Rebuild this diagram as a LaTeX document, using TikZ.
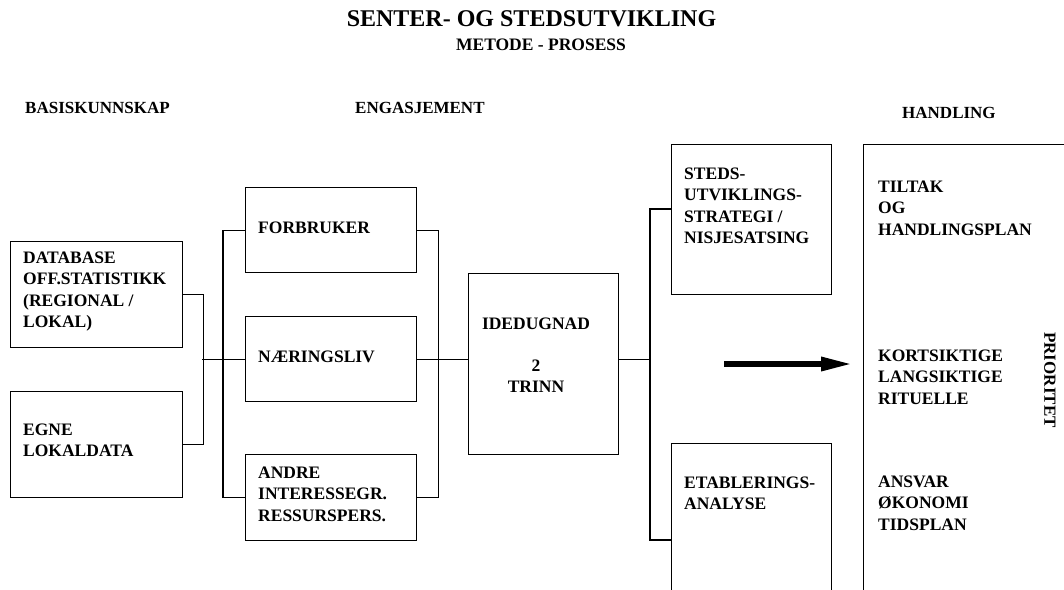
\documentclass[tikz,border=0pt]{standalone}
\usepackage{fontspec}
\setmainfont{Liberation Serif}
\usetikzlibrary{arrows.meta}
\newcommand\mlines[1]{\begin{tabular}[t]{@{}l@{}}#1\end{tabular}}
\begin{document}
\begin{tikzpicture}[x=1pt,y=-1pt,
  box/.style={draw, line width=1.2pt, anchor=north west, inner sep=0pt},
  txt/.style={anchor=base west, inner sep=0pt, font=\fontsize{17.5}{21.5}\selectfont\bfseries},
  hdr/.style={anchor=base west, inner sep=0pt, font=\fontsize{17}{20}\selectfont\bfseries},
  conn/.style={line width=1.2pt}]
\useasboundingbox (0,0) rectangle (1064,589);
\clip (0,0) rectangle (1064,589);

% titles
\node[anchor=base, inner sep=0pt, font=\fontsize{24}{26}\selectfont\bfseries] (title) at (531.5,27) {SENTER- OG STEDSUTVIKLING};
\node[anchor=base, inner sep=0pt, font=\fontsize{17.5}{20}\selectfont\bfseries] (sub) at (541,50) {METODE - PROSESS};
\node[hdr] (h1) at (25,113) {BASISKUNNSKAP};
\node[hdr] (h2) at (355,113) {ENGASJEMENT};
\node[hdr] (h3) at (902,118) {HANDLING};

% boxes
\node[box, minimum width=172pt, minimum height=106pt] (db) at (10,241) {};
\node[box, minimum width=172pt, minimum height=106pt] (egne) at (10,391) {};
\node[box, minimum width=171pt, minimum height=85pt] (forb) at (245,187) {};
\node[box, minimum width=171pt, minimum height=85pt] (naer) at (245,316) {};
\node[box, minimum width=171pt, minimum height=86pt] (andre) at (245,454) {};
\node[box, minimum width=150pt, minimum height=181pt] (ide) at (468,273) {};
\node[box, minimum width=160pt, minimum height=150pt] (steds) at (671,144) {};
\node[box, minimum width=160pt, minimum height=200pt] (etab) at (671,443) {};
\node[box, minimum width=300pt, minimum height=500pt] (handl) at (863,144) {};

% box texts
\node[txt] (tdb) at (23,263) {\mlines{DATABASE\\OFF.STATISTIKK\\(REGIONAL /\\LOKAL)}};
\node[txt] (tegne) at (23,435) {\mlines{EGNE\\LOKALDATA}};
\node[txt] (tforb) at (258,233) {FORBRUKER};
\node[txt] (tnaer) at (258,362) {NÆRINGSLIV};
\node[txt] (tandre) at (258,478) {\mlines{ANDRE\\INTERESSEGR.\\RESSURSPERS.}};
\node[txt, anchor=base] (tide) at (536,329) {IDEDUGNAD};
\node[txt, anchor=base] (tide2) at (536,371) {\begin{tabular}[t]{@{}c@{}}2\\TRINN\end{tabular}};
\node[txt] (tsteds) at (684,179) {\mlines{STEDS-\\UTVIKLINGS-\\STRATEGI /\\NISJESATSING}};
\node[txt] (tetab) at (684,488) {\mlines{ETABLERINGS-\\ANALYSE}};
\node[txt] (t1) at (878,192) {\mlines{TILTAK\\OG\\HANDLINGSPLAN}};
\node[txt] (t2) at (878,361) {\mlines{KORTSIKTIGE\\LANGSIKTIGE\\RITUELLE}};
\node[txt] (t3) at (878,487) {\mlines{ANSVAR\\ØKONOMI\\TIDSPLAN}};
\node[anchor=center, inner sep=0pt, rotate=-90, font=\fontsize{17}{19}\selectfont\bfseries] (prio) at (1050,380) {PRIORITET};

% connectors
\draw[conn] (db.east) -- ++(20,0) |- (egne.east);
\draw[conn] (naer.west) -- ++(-43,0);
\draw[conn] (forb.west) -- ++(-22,0) |- (andre.west);
\draw[conn] (forb.east) -- ++(21,0) |- (andre.east);
\draw[conn] (naer.east) -- (ide.west |- naer.east);
\draw[conn] (ide.east |- naer.east) -- ++(32,0);
\draw[conn] (steds.west |- 0,209) -- ++(-21,0) |- (etab.west |- 0,540);

% thick arrow
\coordinate (a1) at (724,364);
\coordinate (a2) at (853,364);
\draw[line width=6pt, -{Triangle[length=32pt,width=13pt]}] (a1) -- (a2);
\end{tikzpicture}
\end{document}
